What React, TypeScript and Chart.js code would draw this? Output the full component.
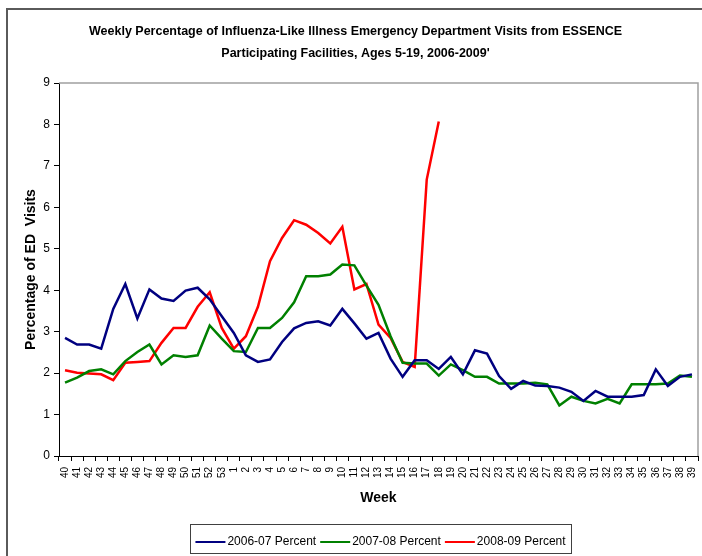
import React, { useEffect, useRef } from "react";
import { Chart, registerables } from "chart.js";

Chart.register(...registerables);

const weeks = [
  "40", "41", "42", "43", "44", "45", "46", "47", "48", "49", "50", "51", "52", "53",
  "1", "2", "3", "4", "5", "6", "7", "8", "9", "10", "11", "12", "13",
  "14", "15", "16", "17", "18", "19", "20", "21", "22", "23", "24", "25", "26",
  "27", "28", "29", "30", "31", "32", "33", "34", "35", "36", "37", "38", "39",
];

const percent0607 = [
  2.85, 2.69, 2.69, 2.59, 3.55, 4.15, 3.32, 4.02, 3.8, 3.74, 3.99, 4.06, 3.78, 3.37,
  2.97, 2.43, 2.27, 2.33, 2.75, 3.08, 3.21, 3.25, 3.15, 3.55, 3.2, 2.83, 2.97,
  2.35, 1.91, 2.31, 2.31, 2.1, 2.39, 1.97, 2.55, 2.47, 1.93, 1.62, 1.81, 1.7,
  1.69, 1.65, 1.55, 1.33, 1.57, 1.43, 1.43, 1.43, 1.47, 2.09, 1.69, 1.91, 1.97,
];

const percent0708 = [
  1.77, 1.89, 2.05, 2.09, 1.97, 2.29, 2.51, 2.69, 2.21, 2.43, 2.39, 2.43, 3.15, 2.83,
  2.53, 2.51, 3.09, 3.09, 3.33, 3.71, 4.34, 4.34, 4.38, 4.62, 4.6, 4.11, 3.65,
  2.89, 2.25, 2.23, 2.23, 1.94, 2.21, 2.07, 1.91, 1.91, 1.75, 1.75, 1.75, 1.77,
  1.73, 1.22, 1.43, 1.33, 1.27, 1.38, 1.27, 1.73, 1.73, 1.73, 1.75, 1.94, 1.91,
];

const percent0809 = [
  2.07, 2.01, 1.99, 1.97, 1.83, 2.25, 2.27, 2.29, 2.73, 3.09, 3.09, 3.6, 3.95, 3.09,
  2.59, 2.89, 3.6, 4.7, 5.26, 5.69, 5.58, 5.38, 5.13, 5.53, 4.02, 4.15, 3.17,
  2.85, 2.27, 2.15, 6.67, 8.07,
];

const seriesNames = ["2006-07 Percent", "2007-08 Percent", "2008-09 Percent"];
const seriesColors = ["#000080", "#008000", "#ff0000"];

const titleLines = [
  "Weekly Percentage of Influenza-Like Illness Emergency Department Visits from ESSENCE",
  "Participating Facilities, Ages 5-19, 2006-2009'",
];
const yAxisTitle = "Percentage of ED  Visits";
const xAxisTitle = "Week";
const yMin = 0;
const yMax = 9;
const yStep = 1;

const FONT = "'Liberation Sans', Arial, sans-serif";

// legend marker: a short line that sits before the label with a small gap
function makeLegendLine(color: string): HTMLCanvasElement {
  const c = document.createElement("canvas");
  c.width = 68;
  c.height = 4;
  const g = c.getContext("2d")!;
  g.fillStyle = color;
  g.fillRect(23, 1, 30, 2);
  return c;
}

const framePlugin = {
  id: "framePlugin",
  beforeDraw(chart: any) {
    const ctx = chart.ctx;
    ctx.save();
    ctx.fillStyle = "#ffffff";
    ctx.fillRect(0, 0, chart.width, chart.height);
    ctx.strokeStyle = "#5a5a5a";
    ctx.lineWidth = 2;
    ctx.beginPath();
    ctx.moveTo(7, chart.height + 5);
    ctx.lineTo(7, 9);
    ctx.lineTo(chart.width + 5, 9);
    ctx.stroke();
    ctx.restore();
  },
  beforeDatasetsDraw(chart: any) {
    const { ctx, chartArea } = chart;
    ctx.save();
    ctx.strokeStyle = "#a0a0a0";
    ctx.lineWidth = 1.5;
    ctx.beginPath();
    ctx.moveTo(chartArea.left, chartArea.top);
    ctx.lineTo(chartArea.right, chartArea.top);
    ctx.lineTo(chartArea.right, chartArea.bottom);
    ctx.stroke();
    ctx.restore();
  },
  afterDraw(chart: any) {
    const legend = chart.legend;
    if (!legend || !legend.legendHitBoxes || !legend.legendHitBoxes.length) return;
    const boxes = legend.legendHitBoxes;
    const first = boxes[0];
    const last = boxes[boxes.length - 1];
    const ctx = chart.ctx;
    ctx.save();
    ctx.strokeStyle = "#404040";
    ctx.lineWidth = 1;
    const left = Math.round(first.left - 1) + 0.5;
    const right = Math.round(last.left + last.width + 5) + 0.5;
    const top = Math.round(legend.top - 12) + 0.5;
    const bottom = 553.5;
    ctx.strokeRect(left, top, right - left, bottom - top);
    ctx.restore();
  },
};

export default function App() {
  const canvasRef = useRef<HTMLCanvasElement | null>(null);

  useEffect(() => {
    if (!canvasRef.current) return;
    const markers = seriesColors.map(makeLegendLine);
    const datasets = [percent0607, percent0708, percent0809].map((data, i) => ({
      label: seriesNames[i],
      data,
      borderColor: seriesColors[i],
      backgroundColor: seriesColors[i],
      borderWidth: 2.5,
      pointRadius: 0,
      pointHoverRadius: 0,
      tension: 0,
      fill: false,
    }));

    const chart = new Chart(canvasRef.current, {
      type: "line",
      data: { labels: weeks, datasets },
      plugins: [framePlugin],
      options: {
        animation: false,
        responsive: false,
        maintainAspectRatio: false,
        devicePixelRatio: 1,
        layout: { padding: { left: 13, right: 4, top: 0, bottom: -2 } },
        plugins: {
          tooltip: { enabled: false },
          title: {
            display: true,
            text: titleLines,
            color: "#000",
            font: { family: FONT, size: 12.5, weight: "bold", lineHeight: 22 / 12.5 },
            padding: { top: 21, bottom: 18 },
          },
          legend: {
            display: true,
            position: "bottom",
            fullSize: false,
            labels: {
              color: "#000",
              font: { family: FONT, size: 12 },
              usePointStyle: true,
              pointStyleWidth: 30,
              boxHeight: 4,
              padding: 0,
              generateLabels: (c: any) =>
                c.data.datasets.map((ds: any, i: number) => ({
                  text: ds.label,
                  fillStyle: ds.borderColor,
                  strokeStyle: ds.borderColor,
                  lineWidth: 0,
                  pointStyle: markers[i],
                  hidden: false,
                  datasetIndex: i,
                  fontColor: "#000",
                })),
            },
          },
        },
        scales: {
          x: {
            type: "category",
            offset: true,
            afterFit: (s: any) => {
              s.height = 80;
              s.paddingLeft = 0;
              s.paddingRight = 0;
            },
            grid: {
              offset: true,
              drawOnChartArea: false,
              drawTicks: true,
              tickLength: 5,
              color: "#000",
            },
            border: { display: true, color: "#000", width: 1 },
            ticks: {
              autoSkip: false,
              maxRotation: 90,
              minRotation: 90,
              padding: 6,
              color: "#000",
              font: { family: FONT, size: 10 },
            },
            title: {
              display: true,
              text: xAxisTitle,
              color: "#000",
              font: { family: FONT, size: 14, weight: "bold", lineHeight: 1.2 },
              padding: { top: 0, bottom: 29.6 },
            },
          },
          y: {
            min: yMin,
            max: yMax,
            afterFit: (s: any) => {
              s.width = 46;
            },
            grid: {
              drawOnChartArea: false,
              drawTicks: true,
              tickLength: 5,
              color: "#000",
            },
            border: { display: true, color: "#000", width: 1 },
            ticks: {
              stepSize: yStep,
              padding: 4,
              color: "#000",
              font: { family: FONT, size: 12 },
            },
            title: {
              display: true,
              text: yAxisTitle,
              color: "#000",
              font: { family: FONT, size: 14, weight: "bold", lineHeight: 1.2 },
              padding: { top: 9.6, bottom: 0 },
            },
          },
        },
      } as any,
    });
    return () => chart.destroy();
  }, []);

  return (
    <div style={{ position: "absolute", left: 0, top: 0, width: 702, height: 556 }}>
      <canvas ref={canvasRef} width={702} height={556} style={{ display: "block", width: 702, height: 556 }} />
    </div>
  );
}
